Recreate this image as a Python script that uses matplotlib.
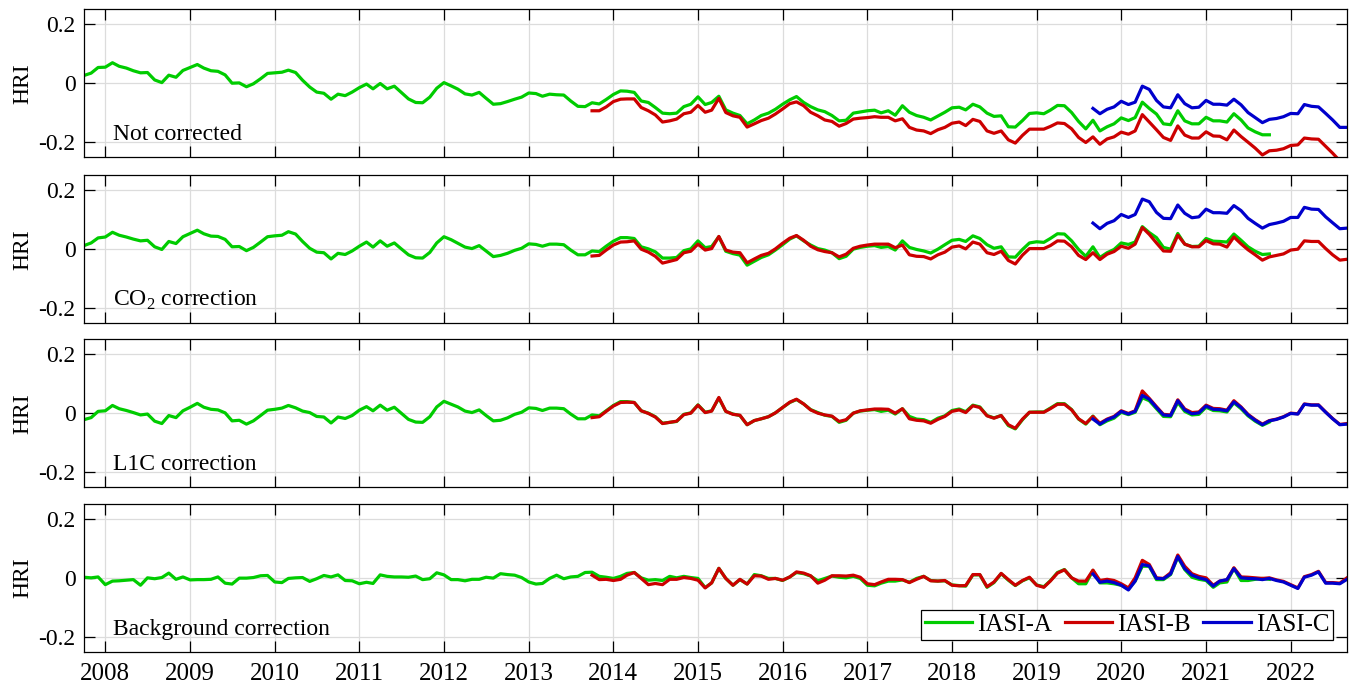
import numpy as np
import pandas as pd
import matplotlib
matplotlib.use("Agg")
import matplotlib.pyplot as plt
import matplotlib.dates as mdates

plt.rcParams['font.family'] = ['Liberation Serif', 'DejaVu Serif']
plt.rcParams['mathtext.fontset'] = 'custom'
plt.rcParams['mathtext.rm'] = 'Liberation Serif'

# monthly time axis, Oct 2007 .. Sep 2022
months = pd.date_range('2007-10-01', '2022-09-01', freq='MS')
B_START = 72    # IASI-B starts Oct 2013
C_START = 143   # IASI-C starts Sep 2019

panel_labels = ['Not corrected', r'CO$_{\mathregular{2}}$ correction',
                'L1C correction', 'Background correction']
series_names = ['IASI-A', 'IASI-B', 'IASI-C']

# ---- Not corrected
a_none = [0.026, 0.034, 0.053, 0.054, 0.069, 0.057, 0.051, 0.042, 0.035, 0.036, 0.011, 0.002, 0.027, 0.020, 0.043, 0.053, 0.063, 0.051, 0.042, 0.040, 0.028, 0.000, 0.001, -0.012, -0.002, 0.015, 0.033, 0.035, 0.037, 0.044, 0.036, 0.010, -0.013, -0.030, -0.034, -0.054, -0.037, -0.042, -0.030, -0.015, -0.003, -0.019, -0.001, -0.019, -0.010, -0.031, -0.053, -0.065, -0.066, -0.047, -0.017, 0.002, -0.009, -0.020, -0.036, -0.040, -0.031, -0.051, -0.071, -0.069, -0.062, -0.054,
          -0.047, -0.033, -0.035, -0.044, -0.037, -0.039, -0.040, -0.060, -0.078, -0.079, -0.066, -0.070, -0.055, -0.038, -0.026, -0.027, -0.031, -0.060, -0.065, -0.082, -0.101, -0.103, -0.101, -0.079, -0.071, -0.046, -0.072, -0.065, -0.044, -0.090, -0.101, -0.109, -0.137, -0.124, -0.109, -0.101, -0.088, -0.071, -0.056, -0.045, -0.065, -0.079, -0.090, -0.096, -0.109, -0.127, -0.125, -0.101, -0.097, -0.093, -0.091, -0.100, -0.093, -0.108, -0.076, -0.098, -0.109, -0.115, -0.124, -0.111,
          -0.098, -0.083, -0.081, -0.090, -0.071, -0.080, -0.101, -0.112, -0.110, -0.147, -0.148, -0.126, -0.102, -0.100, -0.103, -0.091, -0.075, -0.076, -0.099, -0.129, -0.154, -0.125, -0.161, -0.147, -0.137, -0.117, -0.126, -0.116, -0.064, -0.085, -0.104, -0.137, -0.140, -0.093, -0.127, -0.137, -0.137, -0.115, -0.127, -0.127, -0.131, -0.103, -0.124, -0.151, -0.164, -0.174, -0.174]
b_none = [-0.093, -0.093, -0.080, -0.062, -0.054, -0.053, -0.053, -0.082, -0.093, -0.107, -0.131, -0.127, -0.121, -0.103, -0.098, -0.075, -0.098, -0.091, -0.051, -0.099, -0.110, -0.115, -0.148, -0.137, -0.126, -0.118, -0.104, -0.087, -0.069, -0.063, -0.076, -0.098, -0.110, -0.124, -0.129, -0.145, -0.136, -0.121, -0.118, -0.116, -0.113, -0.115, -0.115, -0.127, -0.120, -0.149, -0.158, -0.161, -0.170, -0.157,
          -0.149, -0.135, -0.131, -0.143, -0.122, -0.129, -0.161, -0.169, -0.161, -0.191, -0.202, -0.176, -0.155, -0.155, -0.155, -0.146, -0.134, -0.136, -0.154, -0.183, -0.200, -0.181, -0.206, -0.188, -0.181, -0.165, -0.172, -0.161, -0.106, -0.131, -0.157, -0.183, -0.193, -0.144, -0.175, -0.185, -0.185, -0.164, -0.178, -0.179, -0.191, -0.158, -0.180, -0.199, -0.219, -0.242, -0.228, -0.226, -0.221, -0.210, -0.208, -0.185, -0.188, -0.189, -0.213, -0.236, -0.262, -0.265]
c_none = [-0.085, -0.103, -0.088, -0.080, -0.061, -0.072, -0.064, -0.010, -0.021, -0.058, -0.080, -0.083, -0.039, -0.069, -0.083, -0.081, -0.058, -0.071, -0.071, -0.074, -0.054, -0.073, -0.099, -0.116, -0.133, -0.122, -0.119, -0.113, -0.102, -0.103, -0.072, -0.078, -0.080, -0.102, -0.124, -0.149, -0.149]

# ---- CO2 correction
a_co2 = [0.012, 0.021, 0.038, 0.041, 0.057, 0.047, 0.041, 0.034, 0.028, 0.030, 0.008, -0.001, 0.026, 0.019, 0.042, 0.053, 0.064, 0.052, 0.044, 0.043, 0.033, 0.008, 0.009, -0.005, 0.006, 0.024, 0.042, 0.045, 0.047, 0.059, 0.051, 0.026, 0.003, -0.010, -0.012, -0.033, -0.014, -0.018, -0.006, 0.010, 0.024, 0.007, 0.028, 0.010, 0.021, 0.001, -0.019, -0.029, -0.030, -0.011, 0.021, 0.042, 0.032, 0.020, 0.007, 0.002, 0.012, -0.006, -0.025, -0.021, -0.014, -0.004,
         0.003, 0.018, 0.016, 0.010, 0.017, 0.017, 0.015, -0.003, -0.019, -0.019, -0.006, -0.008, 0.010, 0.027, 0.039, 0.039, 0.036, 0.008, 0.001, -0.009, -0.030, -0.030, -0.028, -0.005, 0.001, 0.028, 0.005, 0.009, 0.042, -0.007, -0.015, -0.020, -0.054, -0.041, -0.028, -0.019, -0.003, 0.015, 0.034, 0.045, 0.028, 0.014, 0.002, -0.003, -0.012, -0.032, -0.024, 0.000, 0.006, 0.010, 0.012, 0.006, 0.009, -0.003, 0.028, 0.006, -0.001, -0.006, -0.013, 0.000,
         0.015, 0.030, 0.033, 0.026, 0.045, 0.036, 0.015, 0.003, 0.008, -0.026, -0.027, -0.001, 0.021, 0.025, 0.023, 0.036, 0.052, 0.051, 0.028, -0.001, -0.024, 0.008, -0.028, -0.012, -0.001, 0.021, 0.016, 0.024, 0.076, 0.056, 0.039, 0.006, 0.000, 0.053, 0.017, 0.009, 0.010, 0.036, 0.027, 0.026, 0.024, 0.051, 0.030, 0.008, -0.007, -0.018, -0.016]
b_co2 = [-0.023, -0.021, -0.003, 0.014, 0.024, 0.025, 0.028, 0.000, -0.010, -0.024, -0.047, -0.041, -0.035, -0.012, -0.007, 0.017, -0.003, 0.002, 0.043, -0.003, -0.010, -0.012, -0.046, -0.033, -0.021, -0.014, 0.001, 0.020, 0.037, 0.046, 0.030, 0.010, -0.002, -0.008, -0.012, -0.026, -0.017, 0.003, 0.010, 0.014, 0.017, 0.017, 0.017, 0.005, 0.014, -0.019, -0.024, -0.025, -0.033, -0.019,
         -0.010, 0.007, 0.011, 0.001, 0.024, 0.017, -0.012, -0.018, -0.007, -0.038, -0.050, -0.020, 0.002, 0.002, 0.002, 0.012, 0.028, 0.027, 0.008, -0.021, -0.035, -0.012, -0.035, -0.017, -0.008, 0.010, 0.003, 0.017, 0.073, 0.050, 0.021, -0.006, -0.007, 0.047, 0.017, 0.008, 0.008, 0.029, 0.018, 0.017, 0.007, 0.041, 0.018, -0.002, -0.019, -0.037, -0.026, -0.021, -0.016, -0.003, 0.000, 0.028, 0.026, 0.026, 0.002, -0.019, -0.037, -0.034]
c_co2 = [0.088, 0.069, 0.087, 0.096, 0.117, 0.107, 0.117, 0.169, 0.160, 0.124, 0.104, 0.103, 0.149, 0.121, 0.106, 0.109, 0.135, 0.123, 0.123, 0.121, 0.147, 0.130, 0.104, 0.087, 0.071, 0.083, 0.088, 0.094, 0.107, 0.107, 0.141, 0.135, 0.134, 0.109, 0.089, 0.069, 0.071]

# ---- L1C correction
a_l1c = [-0.022, -0.015, 0.006, 0.008, 0.026, 0.015, 0.009, 0.002, -0.006, -0.003, -0.027, -0.035, -0.008, -0.015, 0.008, 0.020, 0.033, 0.020, 0.013, 0.011, 0.001, -0.026, -0.024, -0.037, -0.026, -0.008, 0.010, 0.013, 0.017, 0.026, 0.018, 0.007, 0.002, -0.011, -0.013, -0.033, -0.013, -0.018, -0.008, 0.010, 0.022, 0.008, 0.027, 0.010, 0.020, 0.000, -0.021, -0.030, -0.031, -0.012, 0.021, 0.040, 0.030, 0.021, 0.007, 0.002, 0.011, -0.008, -0.026, -0.024, -0.016, -0.004,
         0.003, 0.018, 0.016, 0.009, 0.017, 0.017, 0.015, -0.003, -0.019, -0.019, -0.006, -0.009, 0.008, 0.026, 0.039, 0.039, 0.036, 0.008, 0.000, -0.012, -0.034, -0.031, -0.028, -0.004, 0.001, 0.028, 0.003, 0.008, 0.051, 0.006, -0.003, -0.008, -0.039, -0.025, -0.019, -0.012, 0.001, 0.019, 0.036, 0.046, 0.031, 0.012, 0.002, -0.007, -0.011, -0.031, -0.024, 0.000, 0.007, 0.010, 0.012, 0.006, 0.010, -0.003, 0.015, -0.011, -0.020, -0.022, -0.031, -0.017,
         -0.009, 0.009, 0.014, 0.005, 0.027, 0.021, -0.008, -0.016, -0.008, -0.042, -0.053, -0.022, 0.003, 0.004, 0.004, 0.017, 0.032, 0.032, 0.012, -0.020, -0.037, -0.010, -0.039, -0.026, -0.017, 0.003, -0.005, 0.003, 0.052, 0.042, 0.015, -0.011, -0.012, 0.036, 0.006, -0.006, -0.004, 0.020, 0.009, 0.008, 0.004, 0.035, 0.015, -0.009, -0.027, -0.041, -0.030]
b_l1c = [-0.015, -0.012, 0.006, 0.024, 0.036, 0.037, 0.036, 0.008, -0.001, -0.013, -0.035, -0.031, -0.027, -0.005, 0.000, 0.027, 0.002, 0.007, 0.053, 0.006, -0.004, -0.007, -0.039, -0.025, -0.019, -0.012, 0.001, 0.019, 0.037, 0.047, 0.031, 0.011, 0.000, -0.006, -0.010, -0.028, -0.022, 0.000, 0.008, 0.011, 0.014, 0.014, 0.013, 0.000, 0.015, -0.019, -0.024, -0.026, -0.034, -0.021,
         -0.011, 0.006, 0.011, 0.002, 0.025, 0.019, -0.009, -0.017, -0.008, -0.039, -0.051, -0.020, 0.003, 0.003, 0.003, 0.015, 0.030, 0.030, 0.011, -0.019, -0.035, -0.011, -0.034, -0.020, -0.011, 0.008, -0.001, 0.008, 0.075, 0.050, 0.022, -0.004, -0.006, 0.045, 0.014, 0.002, 0.004, 0.027, 0.016, 0.015, 0.010, 0.042, 0.021, -0.004, -0.022, -0.037, -0.025, -0.020, -0.012, 0.000, -0.002, 0.031, 0.028, 0.028, 0.004, -0.018, -0.038, -0.035]
c_l1c = [-0.020, -0.037, -0.022, -0.013, 0.006, -0.003, 0.006, 0.060, 0.047, 0.019, -0.006, -0.008, 0.042, 0.011, -0.002, 0.001, 0.024, 0.013, 0.012, 0.008, 0.038, 0.019, -0.006, -0.024, -0.039, -0.026, -0.021, -0.013, -0.001, -0.003, 0.030, 0.027, 0.027, 0.003, -0.019, -0.039, -0.037]

# ---- Background correction
a_bg = [0.002, 0.000, 0.003, -0.023, -0.011, -0.010, -0.008, -0.006, -0.025, 0.000, -0.003, 0.001, 0.016, -0.005, 0.003, -0.007, -0.006, -0.006, -0.005, 0.003, -0.018, -0.021, -0.001, -0.001, 0.001, 0.007, 0.008, -0.014, -0.016, -0.002, 0.000, 0.001, -0.012, -0.003, 0.008, 0.003, 0.010, -0.009, -0.010, -0.020, -0.015, -0.019, 0.010, 0.005, 0.003, 0.003, 0.002, 0.006, -0.006, -0.003, 0.017, 0.010, -0.006, -0.006, -0.010, -0.005, -0.005, 0.002, -0.001, 0.014, 0.011, 0.009,
        0.001, -0.014, -0.021, -0.019, -0.002, 0.009, -0.003, 0.003, 0.005, 0.018, 0.019, 0.005, 0.002, -0.002, 0.005, 0.015, 0.018, 0.000, -0.008, -0.006, -0.009, 0.005, 0.000, 0.005, 0.001, -0.002, -0.033, -0.017, 0.032, -0.002, -0.025, -0.006, -0.021, 0.011, 0.007, -0.002, -0.002, -0.009, 0.003, 0.018, 0.014, 0.006, -0.010, -0.002, 0.006, 0.002, 0.000, 0.005, -0.002, -0.025, -0.027, -0.018, -0.011, -0.011, -0.007, -0.015, -0.002, 0.005, -0.009, -0.011,
        -0.010, -0.024, -0.026, -0.028, 0.010, 0.010, -0.032, -0.016, 0.014, -0.008, -0.026, -0.010, 0.000, -0.024, -0.030, -0.010, 0.018, 0.028, 0.000, -0.020, -0.020, 0.025, -0.017, -0.017, -0.020, -0.025, -0.037, -0.011, 0.039, 0.039, -0.006, -0.006, 0.011, 0.070, 0.028, 0.002, -0.005, -0.009, -0.032, -0.017, -0.014, 0.032, -0.009, -0.009, -0.005, -0.002, -0.005]
b_bg = [0.009, -0.006, -0.005, -0.009, -0.005, 0.009, 0.018, -0.002, -0.023, -0.019, -0.023, -0.005, -0.005, 0.001, -0.002, -0.008, -0.034, -0.017, 0.032, -0.002, -0.025, -0.005, -0.021, 0.007, 0.006, -0.005, -0.002, -0.008, 0.003, 0.020, 0.016, 0.007, -0.018, -0.008, 0.007, 0.007, 0.006, 0.009, 0.002, -0.020, -0.023, -0.014, -0.005, -0.005, -0.006, -0.016, -0.005, 0.005, -0.010, -0.011,
        -0.009, -0.025, -0.027, -0.026, 0.011, 0.011, -0.030, -0.014, 0.015, -0.006, -0.025, -0.009, 0.002, -0.025, -0.032, -0.011, 0.016, 0.027, 0.000, -0.011, -0.011, 0.026, -0.009, -0.005, -0.009, -0.020, -0.034, 0.000, 0.059, 0.045, 0.000, -0.002, 0.017, 0.077, 0.039, 0.014, 0.005, 0.000, -0.025, -0.011, -0.007, 0.034, 0.003, 0.002, 0.000, -0.002, 0.000, -0.007, -0.012, -0.023, -0.034, 0.004, 0.011, 0.022, -0.016, -0.016, -0.018, 0.000]
c_bg = [0.013, -0.015, -0.011, -0.016, -0.025, -0.041, -0.011, 0.045, 0.040, -0.002, -0.003, 0.013, 0.072, 0.031, 0.009, 0.000, -0.006, -0.028, -0.011, -0.006, 0.031, 0.000, -0.002, -0.003, -0.006, -0.002, -0.009, -0.014, -0.025, -0.036, 0.002, 0.009, 0.020, -0.018, -0.018, -0.020, -0.005]

panels = [(a_none, b_none, c_none), (a_co2, b_co2, c_co2),
          (a_l1c, b_l1c, c_l1c), (a_bg, b_bg, c_bg)]
colors = ['#00cc00', '#cc0000', '#0000cc']

fig = plt.figure(figsize=(13.52, 6.87), dpi=100)
left, width, height = 0.0621, 0.9342, 0.2158
bottoms = [0.7710, 0.5294, 0.2907, 0.0510]

for k, (a, b, c) in enumerate(panels):
    ax = fig.add_axes([left, bottoms[k], width, height])
    lines = []
    lines += ax.plot(months[:len(a)], a, color=colors[0], lw=2.3)
    lines += ax.plot(months[B_START:B_START + len(b)], b, color=colors[1], lw=2.3)
    lines += ax.plot(months[C_START:C_START + len(c)], c, color=colors[2], lw=2.3)

    ax.set_xlim(months[0], months[-1])
    ax.set_ylim(-0.25, 0.25)
    ax.set_yticks([-0.2, 0, 0.2])
    ax.set_yticklabels(['-0.2', '0', '0.2'])
    ax.xaxis.set_major_locator(mdates.YearLocator())
    ax.xaxis.set_major_formatter(mdates.DateFormatter('%Y'))
    ax.grid(True, color='#dcdcdc', lw=0.9)
    ax.set_axisbelow(True)
    ax.tick_params(direction='in', top=True, right=True, length=8, width=0.9,
                   labelsize=17, pad=6)
    ax.tick_params(axis='x', pad=8, labelsize=18)
    if k < 3:
        ax.tick_params(axis='x', labelbottom=False)
    for sp in ax.spines.values():
        sp.set_linewidth(0.9)
    ax.set_ylabel('HRI', fontsize=17)
    ax.yaxis.set_label_coords(-0.0404, 0.5)
    ax.text(0.023, 0.117, panel_labels[k], transform=ax.transAxes,
            fontsize=17, va='baseline', ha='left')

    if k == 3:
        leg = ax.legend(lines, series_names, loc='lower right',
                        bbox_to_anchor=(0.989, 0.081), borderaxespad=0,
                        ncol=3, fontsize=18, fancybox=False, framealpha=1,
                        edgecolor='black', handlelength=1.9, handletextpad=0.2,
                        columnspacing=0.5, borderpad=0.15)
        leg.get_frame().set_linewidth(0.9)

fig.savefig('out.png', dpi=100)
